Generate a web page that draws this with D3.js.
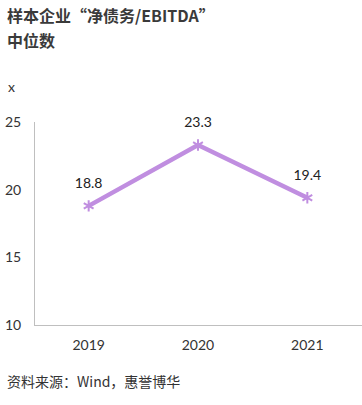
<!DOCTYPE html>
<html>
<head>
<meta charset="utf-8">
<script src="https://cdn.jsdelivr.net/npm/d3@7"></script>
<style>
  body { margin: 0; background: #fff; }
  svg { display: block; font-family: Lato, "Noto Sans CJK SC", sans-serif; }
</style>
</head>
<body>
<div id="chart"></div>
<script>
const years = ['2019', '2020', '2021'];
const values = [18.8, 23.3, 19.4];
const yTicks = [10, 15, 20, 25];

const width = 362;
const height = 405;
const margin = { top: 122, right: 0, bottom: 80, left: 34 };

const svg = d3.select('#chart')
  .append('svg')
  .attr('width', width)
  .attr('height', height);

// title
svg.append('text')
  .attr('x', 7).attr('y', 22)
  .attr('font-size', 16).attr('font-weight', 'bold').attr('fill', '#3a3a3a')
  .attr('font-family', '"Noto Sans CJK SC", sans-serif')
  .text('样本企业“净债务/EBITDA”');
svg.append('text')
  .attr('x', 7).attr('y', 47)
  .attr('font-size', 16).attr('font-weight', 'bold').attr('fill', '#3a3a3a')
  .attr('font-family', '"Noto Sans CJK SC", sans-serif')
  .text('中位数');

// unit
svg.append('text')
  .attr('x', 8).attr('y', 92)
  .attr('font-size', 14).attr('fill', '#333')
  .text('x');

const x = d3.scaleBand()
  .domain(years)
  .range([margin.left, width - margin.right]);

const y = d3.scaleLinear()
  .domain([10, 25])
  .range([height - margin.bottom, margin.top]);

// axis lines
svg.append('line')
  .attr('x1', margin.left + 0.5).attr('x2', margin.left + 0.5)
  .attr('y1', y(25)).attr('y2', y(10))
  .attr('stroke', '#bfbfbf');
svg.append('line')
  .attr('x1', margin.left).attr('x2', width)
  .attr('y1', y(10) + 0.5).attr('y2', y(10) + 0.5)
  .attr('stroke', '#bfbfbf');

// y tick labels
svg.append('g')
  .selectAll('text')
  .data(yTicks)
  .join('text')
  .attr('x', 5)
  .attr('y', (d) => y(d) + 5)
  .attr('font-size', 14).attr('fill', '#333')
  .text((d) => d);

// x tick labels
svg.append('g')
  .selectAll('text')
  .data(years)
  .join('text')
  .attr('x', (d) => x(d) + x.bandwidth() / 2)
  .attr('y', y(10) + 25)
  .attr('text-anchor', 'middle')
  .attr('font-size', 14).attr('fill', '#333')
  .text((d) => d);

const points = years.map((yr, i) => ({ year: yr, value: values[i] }));

const line = d3.line()
  .x((d) => x(d.year) + x.bandwidth() / 2)
  .y((d) => y(d.value));

svg.append('path')
  .datum(points)
  .attr('d', line)
  .attr('fill', 'none')
  .attr('stroke', '#c08ee0')
  .attr('stroke-width', 4.5);

svg.append('g')
  .selectAll('path')
  .data(points)
  .join('path')
  .attr('transform', (d) => `translate(${x(d.year) + x.bandwidth() / 2},${y(d.value)})`)
  .attr('d', d3.symbol(d3.symbolAsterisk, 90))
  .attr('fill', 'none')
  .attr('stroke', '#c08ee0')
  .attr('stroke-width', 2);

// value labels
svg.append('g')
  .selectAll('text')
  .data(points)
  .join('text')
  .attr('x', (d) => x(d.year) + x.bandwidth() / 2)
  .attr('y', (d) => y(d.value) - 18)
  .attr('text-anchor', 'middle')
  .attr('font-size', 14).attr('fill', '#222')
  .text((d) => d.value.toFixed(1));

// source
svg.append('text')
  .attr('x', 7).attr('y', 387)
  .attr('font-size', 14).attr('fill', '#333')
  .attr('font-family', '"Noto Sans CJK SC", sans-serif')
  .text('资料来源：Wind，惠誉博华');
</script>
</body>
</html>
